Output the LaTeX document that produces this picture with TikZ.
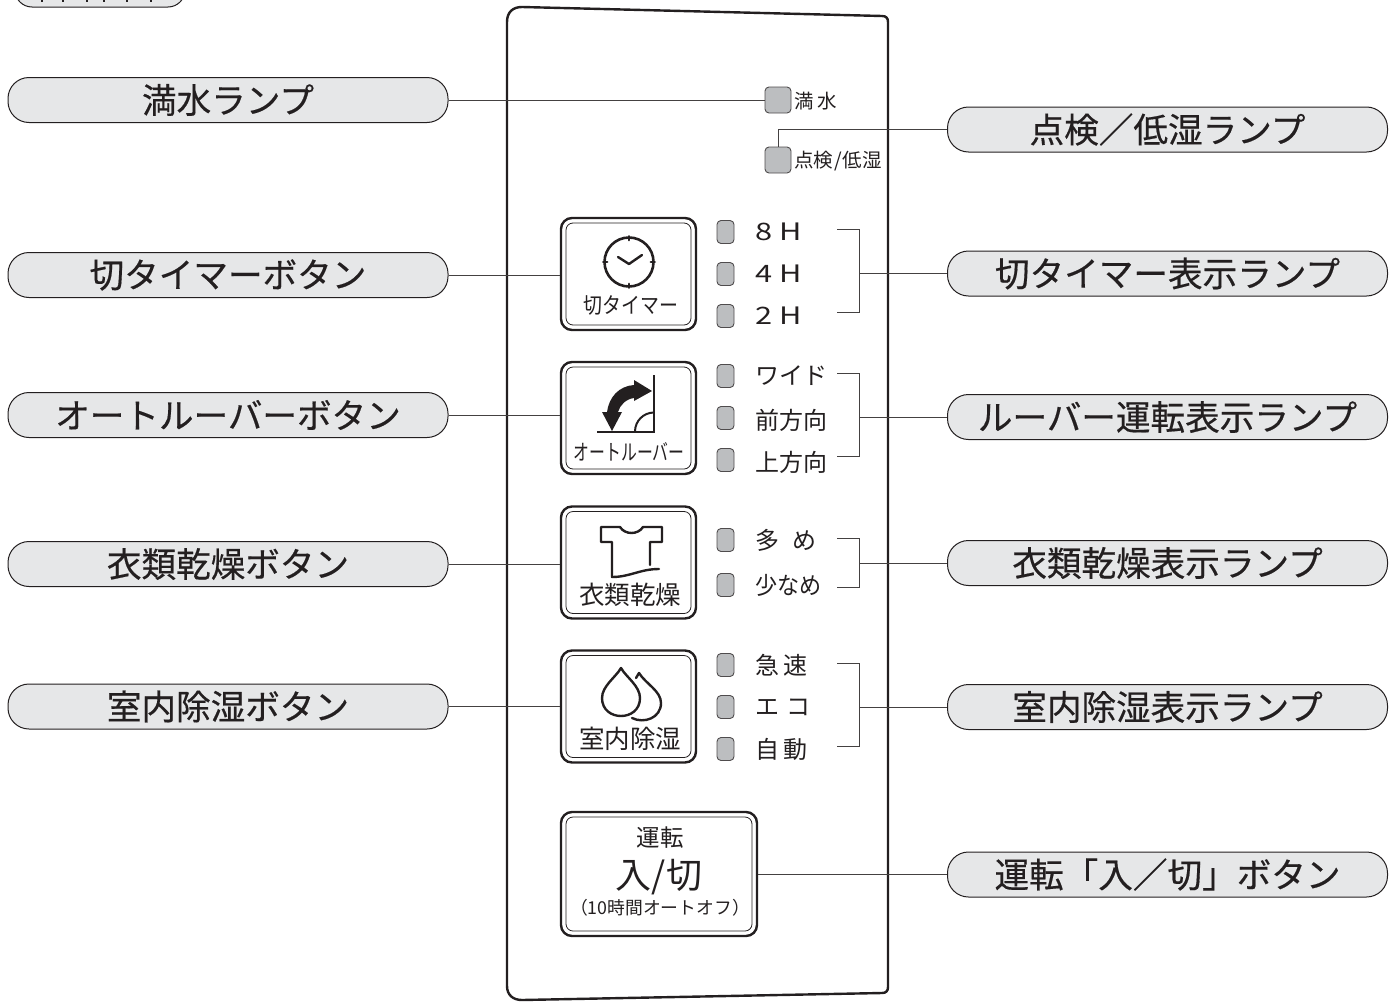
\documentclass[tikz,border=0pt]{standalone}
\usepackage{fontspec}
\usepackage{graphicx}
\setmainfont{Noto Sans CJK JP}
\newfontfamily\pillfont[FakeBold=0.45]{Noto Sans CJK JP}
\usetikzlibrary{positioning}
\definecolor{inkblack}{HTML}{231F20}
\definecolor{pillgray}{HTML}{E6E7E8}
\definecolor{lampgray}{HTML}{BCBEC0}
\tikzset{
  namepill/.style={draw=inkblack,fill=pillgray,line width=1pt,rounded corners=21pt,minimum width=440pt,minimum height=45pt,inner sep=0pt,text=inkblack,font=\pillfont\fontsize{34.6}{34.6}\selectfont},
  bigbutton/.style={draw=inkblack,line width=2.4pt,rounded corners=11pt,inner sep=0pt},
  innerbutton/.style={draw=inkblack,line width=0.8pt,rounded corners=7pt,inner sep=0pt},
  lamp/.style={draw=inkblack!80,fill=lampgray,line width=0.9pt,rounded corners=4pt,minimum width=17pt,minimum height=23pt,inner sep=0pt},
  toplamp/.style={lamp,minimum width=26pt,minimum height=26pt},
  lamptext/.style={anchor=west,inner sep=0pt,text=inkblack,font=\fontsize{24}{24}\selectfont},
  smalltext/.style={anchor=west,inner sep=0pt,text=inkblack,font=\fontsize{19.5}{19.5}\selectfont},
  btntext/.style={inner sep=0pt,text=inkblack},
  leader/.style={draw=inkblack!85,line width=1pt},
  icon/.style={draw=inkblack,line width=2.4pt,line cap=round,line join=round}
}
\newcommand{\panelbutton}[5]{%
  \node[bigbutton,minimum width=#4pt,minimum height=#5pt] (#1) at (#2,#3) {};
  \node[innerbutton,minimum width=#4pt-10pt,minimum height=#5pt-10pt] (#1in) at (#2,#3) {};
}
\newcommand{\widetype}[1]{\scalebox{1.28}[1]{#1}}
\begin{document}
\begin{tikzpicture}[x=1pt,y=-1pt]
  \useasboundingbox (0,0) rectangle (1399,1001);
  \clip (0,0) rectangle (1399,1001);

  % clipped heading, only the feet of its letters show
  \node[namepill,minimum width=170pt,minimum height=38pt,rounded corners=17pt] (headpill) at (100,-12) {};
  \foreach \xx in {42,63,87,104,127,151}{
    \draw[inkblack,line width=2pt] (\xx,-1) -- (\xx,1.5);
  }

  % panel outline
  \draw[inkblack,line width=2.4pt] (507,22) .. controls (507,12) and (513,7) .. (522,7) -- (882,16) .. controls (886,16) and (888,18) .. (888,22) -- (888,987) .. controls (888,991) and (886,993) .. (882,993) -- (522,1000) .. controls (513,1000) and (507,995) .. (507,986) -- cycle;

  % left names
  \node[namepill] (fullpill) at (228,100) {\raisebox{-1pt}{満水ランプ}};
  \node[namepill] (timerpill) at (228,275) {\raisebox{-1pt}{切タイマーボタン}};
  \node[namepill] (louverpill) at (228,415) {\raisebox{-1pt}{オートルーバーボタン}};
  \node[namepill] (drypill) at (228,564) {\raisebox{-1pt}{衣類乾燥ボタン}};
  \node[namepill] (dehumpill) at (228,706.5) {\raisebox{-1pt}{室内除湿ボタン}};

  % right names
  \node[namepill] (checkpill) at (1167.5,129.5) {\raisebox{-1pt}{点検／低湿ランプ}};
  \node[namepill] (timerlamppill) at (1167.5,273.5) {\raisebox{-1pt}{切タイマー表示ランプ}};
  \node[namepill] (louverlamppill) at (1167.5,417) {\raisebox{-1pt}{ルーバー運転表示ランプ}};
  \node[namepill] (drylamppill) at (1167.5,563) {\raisebox{-1pt}{衣類乾燥表示ランプ}};
  \node[namepill] (dehumlamppill) at (1167.5,707) {\raisebox{-1pt}{室内除湿表示ランプ}};
  \node[namepill] (runpill) at (1167.5,874.5) {\raisebox{-1pt}{運転「入／切」ボタン}};

  % buttons
  \panelbutton{timerbtn}{628.5}{274}{135}{112}
  \panelbutton{louverbtn}{628.5}{418}{135}{112}
  \panelbutton{drybtn}{628.5}{562.5}{135}{112}
  \panelbutton{dehumbtn}{628.5}{706.5}{135}{112}
  \panelbutton{runbtn}{659}{874}{196}{124}

  % button texts
  \node[btntext] (timertxt) at (631,305) {\scalebox{0.86}[1]{\fontsize{22}{22}\selectfont 切タイマー}};
  \node[btntext] (louvertxt) at (629,452) {\scalebox{0.72}[1]{\fontsize{22}{22}\selectfont オートルーバー}};
  \node[btntext] (drytxt) at (630,595) {\fontsize{25.5}{25.5}\selectfont 衣類乾燥};
  \node[btntext] (dehumtxt) at (630,739) {\fontsize{25.5}{25.5}\selectfont 室内除湿};
  \node[btntext] (runtxt) at (660,838) {\fontsize{23.5}{23.5}\selectfont 運転};
  \node[btntext] (runmain) at (659,877) {\fontsize{36}{36}\selectfont 入/切};
  \node[btntext] (runsub) at (660,908) {\fontsize{17.8}{17.8}\selectfont （10時間オートオフ）};

  % clock
  \node[draw=inkblack,line width=2.6pt,circle,minimum size=49pt,inner sep=0pt] (clockface) at (629,262) {};
  \draw[icon] (618,257) -- (629,264) -- (642,255);
  \draw[icon] (clockface.north) -- ++(0,4) (clockface.south) -- ++(0,-4) (clockface.west) -- ++(4,0) (clockface.east) -- ++(-4,0);

  % louver
  \draw[inkblack,line width=2pt] (597,431.5) -- (654,431.5) -- (654,375);
  \draw[inkblack,line width=2pt] (635,431.5) arc[start angle=180,end angle=270,radius=19];
  \fill[inkblack] (652,391) -- (634,380) -- (634,385) .. controls (619,386) and (609,397) .. (607,412) -- (602,412) -- (612,431) -- (622,412) -- (618,412) .. controls (620,405) and (626,399) .. (634,398) -- (634,401) -- cycle;

  % shirt
  \draw[icon] (650,565) -- (650,542) -- (662,542) -- (662,527) -- (643,527) .. controls (638,535) and (625,535) .. (620,527) -- (601,527) -- (601,542) -- (612,542) -- (612,577) .. controls (630,577) and (640,569) .. (659,569);

  % drops
  \draw[icon] (621,668) .. controls (616,677) and (602,686) .. (602,698) .. controls (602,722) and (640,722) .. (640,698) .. controls (640,686) and (626,677) .. (621,668) -- cycle;
  \draw[icon] (636,678) -- (639,673) .. controls (646,684) and (661,691) .. (661,703) .. controls (661,718) and (644,724) .. (632,718);

  % top lamps
  \node[toplamp] (fulllamp) at (778,100) {};
  \node[toplamp] (checklamp) at (778,160) {};
  \node[smalltext] (fulltxt) at (794,101) {満\hspace{0.2em}水};
  \node[smalltext] (checktxt) at (794,161) {点検\hspace{0.05em}/\hspace{0.05em}低湿};

  % indicator lamps
  \foreach \nm/\yy/\txt in {eight/232/\widetype{8 H},four/274/\widetype{4 H},two/316/\widetype{2 H},wide/376/ワイド,front/420/前方向,up/462/上方向,more/540/多\hspace{0.55em}め,less/585/\scalebox{0.92}[1]{少なめ},fast/665/急\hspace{0.2em}速,eco/707/エ\hspace{0.3em}コ,auto/749/自\hspace{0.2em}動}{
    \node[lamptext] (\nm txt) at (755,\yy) {\txt};
  }
  \foreach \nm/\yy in {eight/232,four/274,two/316,wide/376,front/418,up/460,more/540,less/585,fast/665,eco/707,auto/749}{
    \node[lamp] (\nm lamp) at (725.5,\yy) {};
  }

  % brackets
  \foreach \nm/\ytop/\ybot in {timerbrk/229/312,louverbrk/373/456,drybrk/538/587,dehumbrk/663/746}{
    \coordinate (\nm a) at (837,\ytop);
    \coordinate (\nm b) at (837,\ybot);
    \draw[leader] (\nm a) -| (859,\ybot) -- (\nm b);
  }

  % leaders
  \draw[leader] (fullpill.east) -- (fulllamp.west);
  \draw[leader] (checkpill.west) -| (checklamp.north);
  \draw[leader] (timerpill.east) -- (timerpill.east -| timerbtn.west);
  \draw[leader] (louverpill.east) -- (louverpill.east -| louverbtn.west);
  \draw[leader] (drypill.east) -- (drypill.east -| drybtn.west);
  \draw[leader] (dehumpill.east) -- (dehumpill.east -| dehumbtn.west);
  \draw[leader] (timerlamppill.west) -- ++(-88,0);
  \draw[leader] (louverlamppill.west) -- ++(-88,0);
  \draw[leader] (drylamppill.west) -- ++(-88,0);
  \draw[leader] (dehumlamppill.west) -- ++(-88,0);
  \draw[leader] (runpill.west) -- (runpill.west -| runbtn.east);
\end{tikzpicture}
\end{document}
